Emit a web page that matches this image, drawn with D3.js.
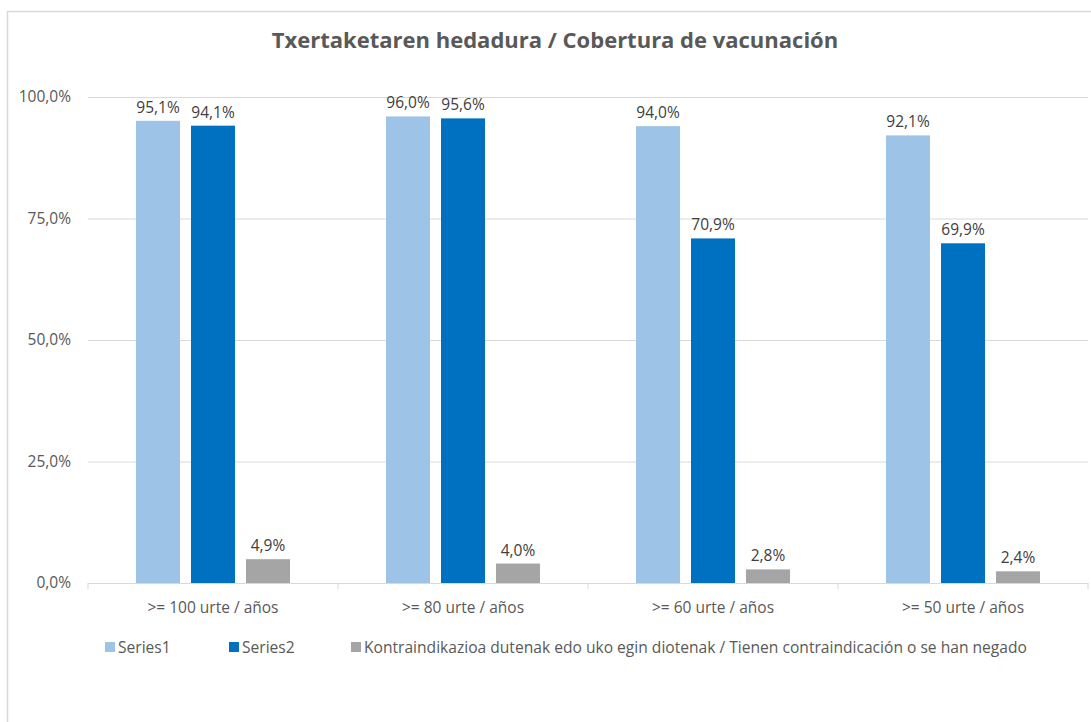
<!DOCTYPE html>
<html>
<head>
<meta charset="utf-8">
<script src="https://cdn.jsdelivr.net/npm/d3@7"></script>
<style>
  html, body { margin: 0; padding: 0; background: #fff; }
  svg text { font-family: "Open Sans", "Noto Sans", sans-serif; }
</style>
</head>
<body>
<svg id="chart" width="1091" height="722"></svg>
<script>
const categories = [">= 100 urte / años", ">= 80 urte / años", ">= 60 urte / años", ">= 50 urte / años"];
const seriesNames = ["Series1", "Series2", "Kontraindikazioa dutenak edo uko egin diotenak / Tienen contraindicación o se han negado"];
const series1 = [95.1, 96.0, 94.0, 92.1];
const series2 = [94.1, 95.6, 70.9, 69.9];
const series3 = [4.9, 4.0, 2.8, 2.4];
const yTicks = [0, 25, 50, 75, 100];
const colors = ["#9DC3E6", "#0070C0", "#A5A5A5"];
const title = "Txertaketaren hedadura / Cobertura de vacunación";

const svg = d3.select("#chart");
const fmt = v => d3.format(".1f")(v).replace(".", ",") + "%";

// chart border
svg.append("rect").attr("x", 7.5).attr("y", 11.5).attr("width", 1200).attr("height", 800)
  .attr("fill", "#fff").attr("stroke", "#D9D9D9").attr("stroke-width", 1.5);

const x0 = 88, x1 = 1088, yTop = 97, yBot = 583;
const x = d3.scaleBand().domain(categories).range([x0, x1]).paddingInner(0).paddingOuter(0);
const y = d3.scaleLinear().domain([0, 100]).range([yBot, yTop]);
const data = [series1, series2, series3];
const xs = d3.scaleBand().domain([0, 1, 2]).range([48, 202]).paddingInner(0.2).paddingOuter(0);

// gridlines
const yAxis = d3.axisLeft(y).tickValues(yTicks).tickSize(-(x1 - x0)).tickFormat(d => fmt(d));
const gy = svg.append("g").attr("transform", `translate(${x0},0)`).call(yAxis);
gy.select(".domain").remove();
gy.selectAll(".tick line").attr("stroke", "#D9D9D9").attr("stroke-width", 1);
gy.selectAll(".tick text").attr("x", -17).attr("fill", "#595959").style("font-size", "15.5px");

// x axis
const xAxis = d3.axisBottom(x).tickSize(0).tickSizeOuter(0);
const gx = svg.append("g").attr("transform", `translate(0,${yBot})`).call(xAxis);
gx.select(".domain").attr("stroke", "#D9D9D9");
gx.selectAll(".tick text").attr("y", 19).attr("fill", "#595959").style("font-size", "15.5px");
// category separators
svg.append("g").selectAll("line").data(d3.range(categories.length + 1)).join("line")
  .attr("x1", i => x0 + i * x.bandwidth()).attr("x2", i => x0 + i * x.bandwidth())
  .attr("y1", yBot).attr("y2", yBot + 6).attr("stroke", "#D9D9D9");

// bars
data.forEach((vals, si) => {
  const g = svg.append("g");
  g.selectAll("rect").data(vals).join("rect")
    .attr("x", (d, i) => x(categories[i]) + xs(si))
    .attr("width", xs.bandwidth())
    .attr("y", d => y(d))
    .attr("height", d => yBot - y(d))
    .attr("fill", colors[si]);
  g.selectAll("text").data(vals).join("text")
    .attr("x", (d, i) => x(categories[i]) + xs(si) + xs.bandwidth() / 2)
    .attr("y", d => y(d) - 8)
    .attr("text-anchor", "middle")
    .attr("fill", "#404040")
    .style("font-size", "15.5px")
    .text(d => fmt(d));
});

// title
svg.append("text").attr("x", 555).attr("y", 48).attr("text-anchor", "middle")
  .attr("fill", "#595959").style("font-size", "22px").style("font-weight", "bold").text(title);

// legend
const legX = [105, 229, 351];
const lg = svg.append("g").selectAll("g").data(seriesNames).join("g")
  .attr("transform", (d, i) => `translate(${legX[i]},647)`);
lg.append("rect").attr("x", 0).attr("y", -5).attr("width", 10).attr("height", 10)
  .attr("fill", (d, i) => colors[i]);
lg.append("text").attr("x", 13).attr("y", 5.5).attr("fill", "#595959").style("font-size", "15.6px").text(d => d);
</script>
</body>
</html>
